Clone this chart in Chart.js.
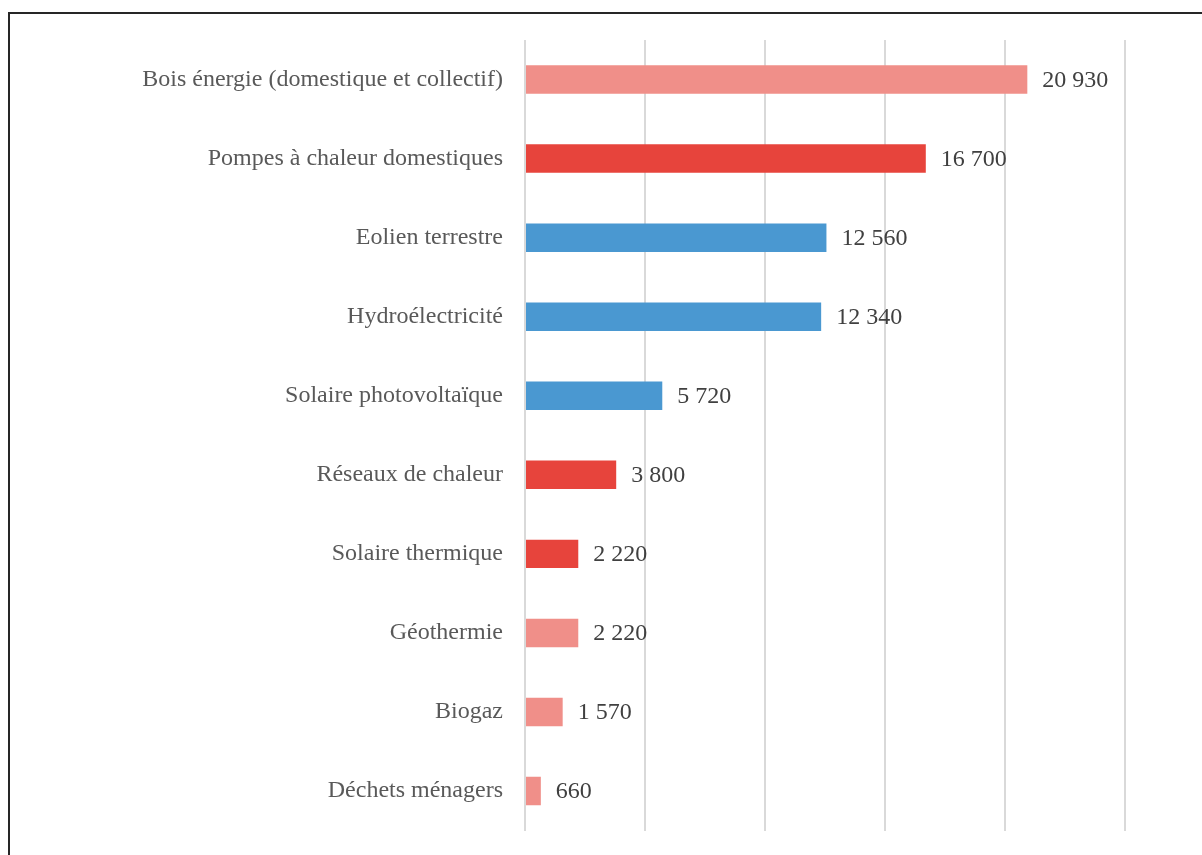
<!DOCTYPE html>
<html>
<head>
<meta charset="utf-8">
<script src="https://cdn.jsdelivr.net/npm/chart.js@4/dist/chart.umd.min.js"></script>
<style>
  html, body { margin: 0; padding: 0; background: #fff; overflow: hidden; }
  #frame { position: absolute; left: 8px; top: 12px; width: 1300px; height: 1000px; border: 2px solid #262626; box-sizing: border-box; }
  #wrap { position: absolute; left: 0; top: 0; width: 1202px; height: 859px; }
</style>
</head>
<body>
<div id="frame"></div>
<div id="wrap"><canvas id="myChart"></canvas></div>
<script>
const categories = [
  'Bois énergie (domestique et collectif)',
  'Pompes à chaleur domestiques',
  'Eolien terrestre',
  'Hydroélectricité',
  'Solaire photovoltaïque',
  'Réseaux de chaleur',
  'Solaire thermique',
  'Géothermie',
  'Biogaz',
  'Déchets ménagers'
];
const values = [20930, 16700, 12560, 12340, 5720, 3800, 2220, 2220, 1570, 660];
const groups = ['light', 'red', 'blue', 'blue', 'blue', 'red', 'red', 'light', 'light', 'light'];
const palette = { light: '#F08F89', red: '#E7443C', blue: '#4A98D1' };

const fmt = v => String(v).replace(/\B(?=(\d{3})+(?!\d))/g, ' ');

const valueLabels = {
  id: 'valueLabels',
  afterDatasetsDraw(chart) {
    const c = chart.ctx;
    const meta = chart.getDatasetMeta(0);
    c.save();
    c.font = '24px "Liberation Serif", "Times New Roman", serif';
    c.fillStyle = '#404040';
    c.textAlign = 'left';
    c.textBaseline = 'middle';
    meta.data.forEach((bar, i) => {
      c.fillText(fmt(values[i]), bar.x + 15, bar.y + 1);
    });
    c.restore();
  }
};

const ctx = document.getElementById('myChart');

const chart = new Chart(ctx, {
  type: 'bar',
  data: {
    labels: categories,
    datasets: [{
      data: values,
      backgroundColor: groups.map(g => palette[g]),
      categoryPercentage: 1,
      barPercentage: 0.36
    }]
  },
  options: {
    indexAxis: 'y',
    responsive: true,
    maintainAspectRatio: false,
    animation: false,
    layout: { padding: { top: 40, bottom: 13, right: 77, left: 0 } },
    plugins: { legend: { display: false }, tooltip: { enabled: false } },
    scales: {
      x: {
        min: 0,
        max: 25000,
        ticks: { display: false, stepSize: 5000 },
        grid: { color: '#D9D9D9', lineWidth: 2, drawTicks: false },
        border: { display: false }
      },
      y: {
        grid: { display: false },
        border: { display: false },
        ticks: {
          color: '#595959',
          padding: 14,
          font: { family: '"Liberation Serif", "Times New Roman", serif', size: 24 }
        },
        afterFit(axis) { axis.width = 525; }
      }
    }
  },
  plugins: [valueLabels]
});
</script>
</body>
</html>
